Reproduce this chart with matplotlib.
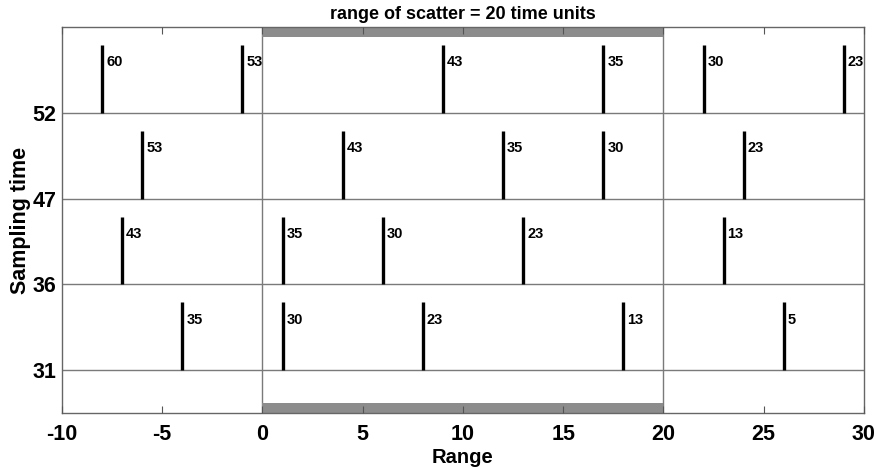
import matplotlib.pyplot as plt
import matplotlib.transforms as mtransforms
from matplotlib.patches import Rectangle

plt.rcParams['font.family'] = ['Liberation Sans', 'DejaVu Sans']
plt.rcParams['font.weight'] = 'bold'
plt.rcParams['axes.unicode_minus'] = False

# sampling times (rows, bottom to top) and the dated events in each row
sampling_times = [31, 36, 47, 52]
row_x = [
    [-4, 1, 8, 18, 26],
    [-7, 1, 6, 13, 23],
    [-6, 4, 12, 17, 24],
    [-8, -1, 9, 17, 22, 29],
]
row_labels = [
    ['35', '30', '23', '13', '5'],
    ['43', '35', '30', '23', '13'],
    ['53', '43', '35', '30', '23'],
    ['60', '53', '43', '35', '30', '23'],
]
scatter_start, scatter_end = 0, 20

fig = plt.figure(figsize=(8.78, 4.68), dpi=100)
ax = fig.add_axes([0.0706, 0.1175, 0.9134, 0.8245])
ax.set_axisbelow(False)

levels = list(range(1, len(sampling_times) + 1))
bar_h = 0.79

for lev in levels:
    ax.axhline(lev, color='#7a7a7a', lw=1.0, zorder=1)
for xv in (scatter_start, scatter_end):
    ax.axvline(xv, color='#7a7a7a', lw=1.0, zorder=1)

for lev, xs, labs in zip(levels, row_x, row_labels):
    ax.vlines(xs, lev, lev + bar_h, color='black', lw=2.4, zorder=3)
    for xv, lab in zip(xs, labs):
        ax.text(xv + 0.2, lev + 0.59, lab, fontsize=10.5, fontweight='bold',
                va='center', ha='left', zorder=4)

# gray bars marking the range of scatter
trans = mtransforms.blended_transform_factory(ax.transData, ax.transAxes)
for y0 in (0.0, 0.974):
    ax.add_patch(Rectangle((scatter_start, y0), scatter_end - scatter_start, 0.026,
                           transform=trans, color='#8c8c8c', lw=0, zorder=2))

ax.set_xlim(-10, 30)
ax.set_ylim(0.5, 5)
ax.set_xticks(range(-10, 31, 5))
ax.set_yticks(levels)
ax.set_yticklabels([str(t) for t in sampling_times])
ax.tick_params(axis='x', direction='in', length=5, width=0.8, color='#555555',
               top=True, labelsize=15.5, pad=8)
ax.tick_params(axis='y', length=0, labelsize=15.5, pad=4)
for lab in ax.get_xticklabels() + ax.get_yticklabels():
    lab.set_fontweight('bold')
for sp in ax.spines.values():
    sp.set_color('#666666')
    sp.set_linewidth(1.0)

ax.set_xlabel('Range', fontsize=14.5, fontweight='bold', labelpad=2)
ax.set_ylabel('Sampling time', fontsize=15.5, fontweight='bold', labelpad=1)
ax.set_title('range of scatter = 20 time units', fontsize=13, fontweight='bold', pad=6)

fig.savefig('out.png', dpi=100)
